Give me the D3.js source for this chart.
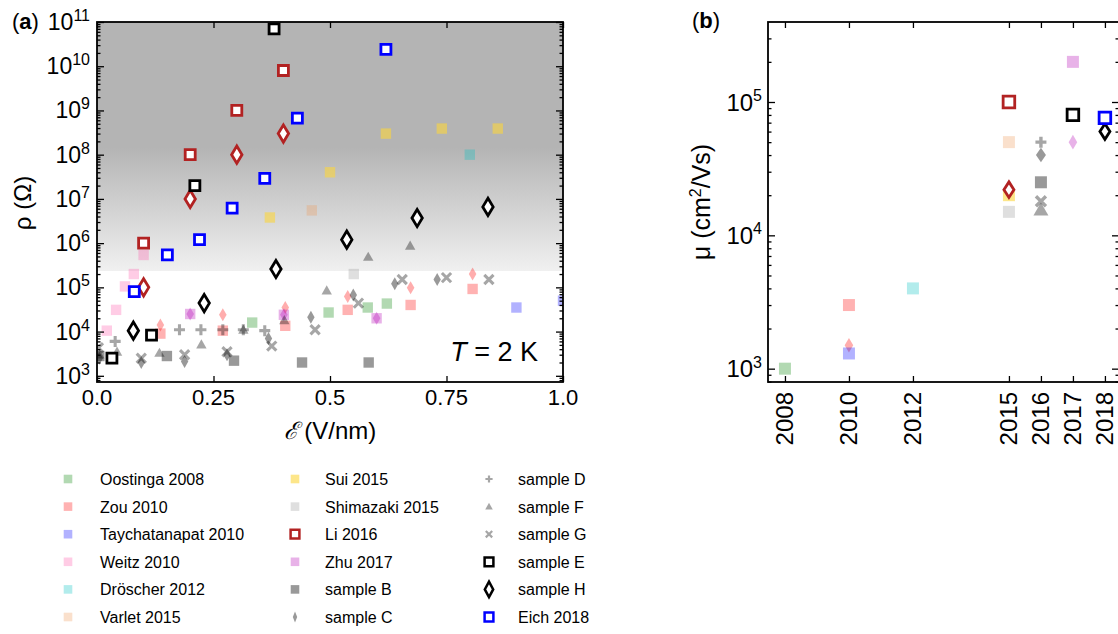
<!DOCTYPE html>
<html>
<head>
<meta charset="utf-8">
<script src="https://cdn.jsdelivr.net/npm/d3@7"></script>
<style>
  body { margin: 0; background: #fff; }
  svg text { font-family: "Liberation Sans", Arial, sans-serif; fill: #000; }
</style>
</head>
<body>
<svg id="fig" width="1118" height="634"></svg>
<script>
// ---- panel (a): field (V/nm) vs resistance (Ohm) ----
const oostingaA = [[0.333, 1.6e4], [0.497, 2.7e4], [0.581, 3.5e4], [0.622, 4.3e4]];
const zouSqA = [[0.136, 9e3], [0.27, 1.05e4], [0.404, 1.35e4], [0.538, 3.1e4], [0.673, 4e4], [0.806, 9.2e4]];
const zouDiaA = [[0.136, 1.4e4], [0.27, 2.4e4], [0.404, 3.5e4], [0.538, 6.2e4], [0.673, 9.8e4], [0.806, 2e5]];
const taychA = [[0.9, 3.5e4], [1.0, 5e4]];
const weitzA = [[0.021, 1.05e4], [0.041, 3.1e4], [0.06, 1.05e5], [0.079, 2e5], [0.1, 5.4e5]];
const droscherA = [[0.8, 1e8]];
const varletA = [[0.461, 5.5e6]];
const suiA = [[0.371, 3.8e6], [0.5, 4e7], [0.62, 3e8], [0.74, 3.9e8], [0.86, 3.9e8]];
const shimazakiA = [[0.551, 2e5]];
const liSqA = [[0.1, 1e6], [0.2, 1e8], [0.3, 1e9], [0.4, 8e9]];
const liDiaA = [[0.1, 1e5], [0.2, 1e7], [0.3, 1e8], [0.4, 3e8]];
const zhuSqA = [[0.2, 2.5e4], [0.401, 2.4e4], [0.6, 2e4]];
const zhuDiaA = [[0.2, 2.5e4], [0.401, 2.4e4], [0.6, 2e4]];
const sampleBA = [[0.005, 2.8e3], [0.15, 2.8e3], [0.294, 2.2e3], [0.44, 2e3], [0.583, 2e3]];
const sampleCA = [[0.005, 2.5e3], [0.095, 2e3], [0.188, 2.1e3], [0.279, 3e3], [0.368, 7e3], [0.459, 2.1e4], [0.55, 6.7e4], [0.639, 1.2e5], [0.73, 1.5e5]];
const sampleDA = [[0.039, 6e3], [0.177, 1.1e4], [0.223, 1.1e4], [0.27, 1.1e4], [0.314, 1.1e4], [0.36, 1.05e4]];
const sampleFA = [[0.005, 3e3], [0.043, 3.5e3], [0.134, 3.3e3], [0.224, 5.1e3], [0.314, 1.1e4], [0.402, 1.8e4], [0.493, 8.5e4], [0.582, 4.9e5], [0.672, 8.7e5]];
const sampleGA = [[0.003, 4.3e3], [0.095, 2.5e3], [0.188, 3e3], [0.279, 3.5e3], [0.375, 4.7e3], [0.468, 1.1e4], [0.561, 4.4e4], [0.655, 1.5e5], [0.75, 1.66e5], [0.841, 1.5e5]];
const sampleEA = [[0.032, 2.5e3], [0.117, 8.3e3], [0.21, 2e7], [0.38, 7e10]];
const sampleHA = [[0.078, 1.05e4], [0.23, 4.4e4], [0.384, 2.6e5], [0.536, 1.2e6], [0.687, 3.7e6], [0.839, 6.6e6]];
const eichA = [[0.08, 8e4], [0.151, 5.4e5], [0.22, 1.2e6], [0.29, 6.2e6], [0.36, 2.9e7], [0.43, 6.7e8], [0.62, 2.4e10]];

// ---- panel (b): year vs mobility (cm2/Vs) ----
const oostingaB = [[2008, 1e3]];
const zouSqB = [[2010, 3e3]];
const zouDiaB = [[2010, 1.5e3]];
const taychB = [[2010, 1.3e3]];
const droscherB = [[2012, 4e3]];
const varletB = [[2015, 5e4]];
const suiB = [[2015, 2e4]];
const shimazakiB = [[2015, 1.5e4]];
const liSqB = [[2015, 1e5]];
const liDiaB = [[2015, 2.2e4]];
const zhuSqB = [[2017, 2e5]];
const zhuDiaB = [[2017, 5e4]];
const sampleBB = [[2016, 2.5e4]];
const sampleCB = [[2016, 4e4]];
const sampleDB = [[2016, 5e4]];
const sampleFB = [[2016, 1.55e4]];
const sampleGB = [[2016, 1.8e4]];
const sampleEB = [[2017, 8e4]];
const sampleHB = [[2018, 6e4]];
const eichB = [[2018, 7.6e4]];

const xTicksA = [0, 0.25, 0.5, 0.75, 1.0];
const xTickLabelsA = ["0.0", "0.25", "0.5", "0.75", "1.0"];
const yearTicks = [2008, 2010, 2012, 2015, 2016, 2017, 2018];

const legendNames = [
  "Oostinga 2008", "Zou 2010", "Taychatanapat 2010", "Weitz 2010", "Dröscher 2012", "Varlet 2015",
  "Sui 2015", "Shimazaki 2015", "Li 2016", "Zhu 2017", "sample B", "sample C",
  "sample D", "sample F", "sample G", "sample E", "sample H", "Eich 2018"
];
const legendKeys = [
  "oostinga", "zou", "taych", "weitz", "droscher", "varlet",
  "sui", "shimazaki", "li", "zhu", "sB", "sC",
  "sD", "sF", "sG", "sE", "sH", "eich"
];

// marker styles
const styles = {
  oostinga: { shape: "sq", fill: "#008000", op: 0.3 },
  zou: { shape: "sq", fill: "#ff0000", op: 0.3 },
  zouDia: { shape: "dia", fill: "#ff0000", op: 0.32 },
  taych: { shape: "sq", fill: "#0000ff", op: 0.3 },
  weitz: { shape: "sq", fill: "#ff55aa", op: 0.3 },
  droscher: { shape: "sq", fill: "#00bfbf", op: 0.3 },
  varlet: { shape: "sq", fill: "#f09855", op: 0.3 },
  sui: { shape: "sq", fill: "#fcd63c", op: 0.6 },
  shimazaki: { shape: "sq", fill: "#808080", op: 0.25 },
  li: { shape: "osq", stroke: "#b22222" },
  liDia: { shape: "odia", stroke: "#b22222" },
  zhu: { shape: "sq", fill: "#b400b4", op: 0.3 },
  zhuDia: { shape: "dia", fill: "#b400b4", op: 0.3 },
  sB: { shape: "sq", fill: "#000", op: 0.4 },
  sC: { shape: "cdia", fill: "#000", op: 0.4 },
  sD: { shape: "plus", stroke: "#000", op: 0.35 },
  sF: { shape: "tri", fill: "#000", op: 0.35 },
  sG: { shape: "x", stroke: "#000", op: 0.35 },
  sE: { shape: "osq", stroke: "#000" },
  sH: { shape: "odia", stroke: "#000" },
  eich: { shape: "osq", stroke: "#0000ff" }
};

const seriesA = [
  [oostingaA, "oostinga"], [zouSqA, "zou"], [zouDiaA, "zouDia"], [taychA, "taych"], [weitzA, "weitz"],
  [droscherA, "droscher"], [varletA, "varlet"], [suiA, "sui"], [shimazakiA, "shimazaki"],
  [liSqA, "li"], [liDiaA, "liDia"], [zhuSqA, "zhu"], [zhuDiaA, "zhuDia"],
  [sampleBA, "sB"], [sampleCA, "sC"], [sampleDA, "sD"], [sampleFA, "sF"], [sampleGA, "sG"],
  [sampleEA, "sE"], [sampleHA, "sH"], [eichA, "eich"]
];
const seriesB = [
  [oostingaB, "oostinga"], [zouSqB, "zou"], [zouDiaB, "zouDia"], [taychB, "taych"],
  [droscherB, "droscher"], [varletB, "varlet"], [suiB, "sui"], [shimazakiB, "shimazaki"],
  [liSqB, "li"], [liDiaB, "liDia"], [zhuSqB, "zhu"], [zhuDiaB, "zhuDia"],
  [sampleBB, "sB"], [sampleCB, "sC"], [sampleDB, "sD"], [sampleFB, "sF"], [sampleGB, "sG"],
  [sampleEB, "sE"], [sampleHB, "sH"], [eichB, "eich"]
];

// marker sizes per context
const sizes = {
  a: { sq: 5.2, osq: 5.0, odia: [5.2, 8.6], dia: [3.8, 6.5], cdia: [3.7, 6.5], plus: 5.5, x: 4.6, tri: 5.2, sw: 2.8, lw: 3.1 },
  b: { sq: 6.0, osq: 5.8, odia: [5.0, 7.8], dia: [4.3, 7.3], cdia: [5.0, 7.3], plus: 5.5, x: 5.0, tri: 7.5, sw: 2.8, lw: 3.4 },
  leg: { sq: 4.3, osq: 4.4, odia: [4.2, 7.8], dia: [2.2, 5.6], cdia: [2.2, 5.6], plus: 3.6, x: 3.2, tri: 3.8, sw: 2.5, lw: 2.2 }
};

function shapePath(shape, s) {
  if (shape === "sq" || shape === "osq") {
    const h = s[shape];
    return `M${-h},${-h}H${h}V${h}H${-h}Z`;
  }
  if (shape === "odia" || shape === "dia" || shape === "cdia") {
    const [w, h] = s[shape];
    return `M0,${-h}L${w},0L0,${h}L${-w},0Z`;
  }
  if (shape === "tri") {
    const t = s.tri;
    return `M0,${-t}L${t},${t * 0.75}L${-t},${t * 0.75}Z`;
  }
  if (shape === "plus") {
    const p = s.plus;
    return `M${-p},0H${p}M0,${-p}V${p}`;
  }
  if (shape === "x") {
    const q = s.x;
    return `M${-q},${-q}L${q},${q}M${q},${-q}L${-q},${q}`;
  }
}

function styleMark(sel, st, s) {
  if (st.shape === "osq" || st.shape === "odia") {
    sel.attr("fill", "#fff").attr("stroke", st.stroke).attr("stroke-width", s.sw)
      .attr("stroke-linejoin", "miter");
  } else if (st.shape === "plus" || st.shape === "x") {
    sel.attr("fill", "none").attr("stroke", st.stroke).attr("stroke-width", s.lw)
      .attr("stroke-opacity", st.op);
  } else {
    sel.attr("fill", st.fill).attr("fill-opacity", st.op).attr("stroke", "none");
  }
}

function drawSeries(g, list, x, y, s) {
  list.forEach(([data, key]) => {
    const st = styles[key];
    g.append("g").selectAll("path")
      .data(data)
      .join("path")
      .attr("d", shapePath(st.shape, s))
      .attr("transform", (d) => `translate(${x(d[0])},${y(d[1])})`)
      .call(styleMark, st, s);
  });
}

function powLabel(g, px, py, exp, fs, sfs, rise) {
  const t = g.append("text").attr("x", px).attr("y", py)
    .attr("text-anchor", "end").style("font-size", fs + "px");
  t.append("tspan").text("10");
  t.append("tspan").attr("dy", -rise).style("font-size", sfs + "px").text(exp);
}

const svg = d3.select("#fig");

// ================= panel (a) =================
const xA = d3.scaleLinear().domain([0, 1]).range([97, 563]);
const yA = d3.scaleLog().domain([Math.pow(10, 2.86), 1e11]).range([382, 22]);

const defs = svg.append("defs");
const grad = defs.append("linearGradient").attr("id", "bgGrad")
  .attr("gradientUnits", "userSpaceOnUse")
  .attr("x1", 0).attr("x2", 0).attr("y1", yA(1.5e8)).attr("y2", yA.range()[0]);
const cut = (yA(2.4e5) - yA(1.5e8)) / (yA.range()[0] - yA(1.5e8));
grad.append("stop").attr("offset", 0).attr("stop-color", "#b4b4b4");
grad.append("stop").attr("offset", cut).attr("stop-color", "#f0f0f0");
grad.append("stop").attr("offset", cut).attr("stop-color", "#ffffff");
grad.append("stop").attr("offset", 1).attr("stop-color", "#ffffff");

defs.append("clipPath").attr("id", "clipA").append("rect")
  .attr("x", xA.range()[0]).attr("y", yA.range()[1])
  .attr("width", xA.range()[1] - xA.range()[0]).attr("height", yA.range()[0] - yA.range()[1]);

const gA = svg.append("g");
gA.append("rect")
  .attr("x", xA.range()[0]).attr("y", yA.range()[1])
  .attr("width", xA.range()[1] - xA.range()[0]).attr("height", yA.range()[0] - yA.range()[1])
  .attr("fill", "url(#bgGrad)");

const majorsA = d3.range(3, 12).map((k) => Math.pow(10, k));
const minorsA = yA.ticks().filter((v) => !majorsA.includes(v));

function frameTicks(g, x, y, xt, ymaj, ymin) {
  const [x0, x1] = x.range();
  const [y0, y1] = y.range();
  g.append("g").attr("transform", `translate(0,${y0})`)
    .call(d3.axisBottom(x).tickValues(xt).tickSize(-6).tickFormat(""));
  g.append("g").attr("transform", `translate(0,${y1})`)
    .call(d3.axisTop(x).tickValues(xt).tickSize(-6).tickFormat(""));
  [[x0, d3.axisLeft], [x1, d3.axisRight]].forEach(([px, ax]) => {
    g.append("g").attr("transform", `translate(${px},0)`)
      .call(ax(y).tickValues(ymaj).tickSize(-7).tickFormat(""));
    g.append("g").attr("transform", `translate(${px},0)`)
      .call(ax(y).tickValues(ymin).tickSize(-3.5).tickFormat(""));
  });
  g.selectAll(".domain").remove();
  g.selectAll(".tick line").attr("stroke", "#000").attr("stroke-width", 1.3);
  g.append("rect").attr("x", x0).attr("y", y1).attr("width", x1 - x0).attr("height", y0 - y1)
    .attr("fill", "none").attr("stroke", "#000").attr("stroke-width", 1.8);
}

const marksA = gA.append("g").attr("clip-path", "url(#clipA)");
drawSeries(marksA, seriesA, xA, yA, sizes.a);
frameTicks(gA, xA, yA, xTicksA, majorsA, minorsA);

xTicksA.forEach((v, i) => {
  gA.append("text").attr("x", xA(v)).attr("y", 405).attr("text-anchor", "middle")
    .style("font-size", "22px").text(xTickLabelsA[i]);
});
majorsA.forEach((v, i) => powLabel(gA, 90, yA(v) + 8, String(i + 3), 23, 16, 9));

gA.append("text").attr("transform", "translate(31,203) rotate(-90)")
  .attr("text-anchor", "middle").style("font-size", "24px").text("ρ (Ω)");
const xl = gA.append("text").attr("x", 330).attr("y", 439).attr("text-anchor", "middle")
  .style("font-size", "24px");
xl.append("tspan").style("font-family", "DejaVu Serif").style("font-style", "italic").text("ℰ");
xl.append("tspan").text(" (V/nm)");

const tl = gA.append("text").attr("x", 538).attr("y", 361).attr("text-anchor", "end")
  .style("font-size", "27px");
tl.append("tspan").style("font-style", "italic").text("T");
tl.append("tspan").text(" = 2 K");

const la = gA.append("text").attr("x", 12).attr("y", 29).style("font-size", "22px");
la.append("tspan").text("(");
la.append("tspan").style("font-weight", "bold").text("a");
la.append("tspan").text(")");

// ================= panel (b) =================
const xB = d3.scaleLinear().domain([2007.47, 2018.44]).range([768, 1119]);
const yB = d3.scaleLog().domain([Math.pow(10, 2.9), Math.pow(10, 5.6)]).range([382, 22]);

defs.append("clipPath").attr("id", "clipB").append("rect")
  .attr("x", xB.range()[0]).attr("y", yB.range()[1])
  .attr("width", xB.range()[1] - xB.range()[0]).attr("height", yB.range()[0] - yB.range()[1]);

const gB = svg.append("g");
const majorsB = [1e3, 1e4, 1e5];
const minorsB = yB.ticks().filter((v) => !majorsB.includes(v));
const marksB = gB.append("g").attr("clip-path", "url(#clipB)");
drawSeries(marksB, seriesB, xB, yB, sizes.b);
frameTicks(gB, xB, yB, yearTicks, majorsB, minorsB);

yearTicks.forEach((yr) => {
  gB.append("text").attr("transform", `translate(${xB(yr) + 8.5},392) rotate(-90)`)
    .attr("text-anchor", "end").style("font-size", "24px").text(yr);
});
majorsB.forEach((v) => powLabel(gB, 762, yB(v) + 8.5, String(Math.round(Math.log10(v))), 24, 16, 9.5));

const ml = gB.append("text").attr("transform", "translate(710,202) rotate(-90)")
  .attr("text-anchor", "middle").style("font-size", "25px");
ml.append("tspan").text("μ (cm");
ml.append("tspan").attr("dy", -9).style("font-size", "16px").text("2");
ml.append("tspan").attr("dy", 9).text("/Vs)");

const lb = gB.append("text").attr("x", 692).attr("y", 28).style("font-size", "22px");
lb.append("tspan").text("(");
lb.append("tspan").style("font-weight", "bold").text("b");
lb.append("tspan").text(")");

// ================= legend =================
const legMarkX = [68, 295, 489];
const legTextX = [100, 325, 518];
const gL = svg.append("g");
legendNames.forEach((name, i) => {
  const col = Math.floor(i / 6), row = i % 6;
  const cy = 479 + row * 27.6;
  const st = styles[legendKeys[i]];
  gL.append("path").attr("d", shapePath(st.shape, sizes.leg))
    .attr("transform", `translate(${legMarkX[col]},${cy})`)
    .call(styleMark, st, sizes.leg);
  gL.append("text").attr("x", legTextX[col]).attr("y", cy + 6)
    .style("font-size", "16px").text(name);
});
</script>
</body>
</html>
